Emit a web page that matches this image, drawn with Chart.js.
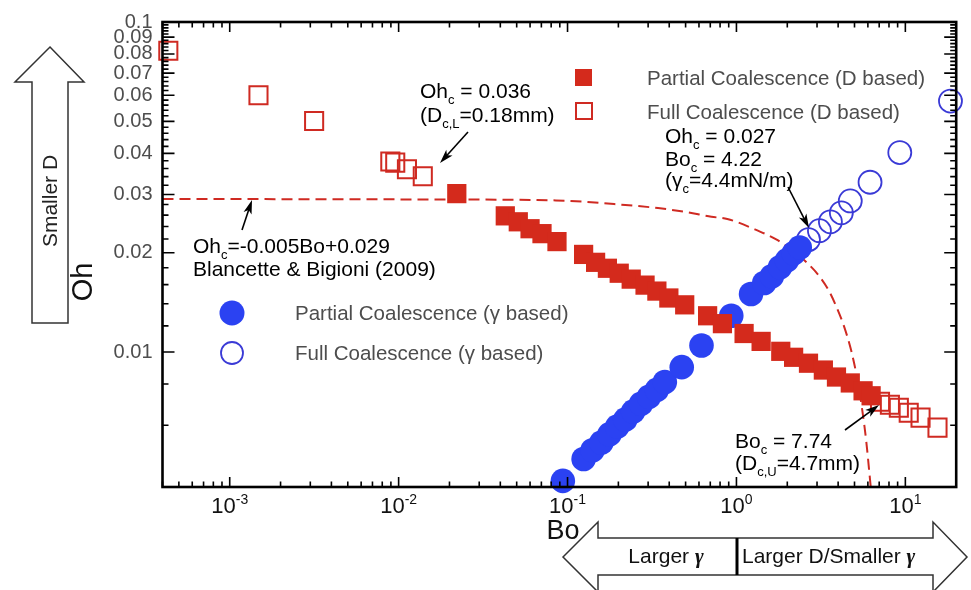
<!DOCTYPE html>
<html>
<head>
<meta charset="utf-8">
<script src="https://cdn.jsdelivr.net/npm/chart.js@4.4.1/dist/chart.umd.min.js"></script>
<style>
  html, body { margin: 0; padding: 0; background: #fff; }
  #wrap { width: 971px; height: 590px; position: relative; }
</style>
</head>
<body>
<div id="wrap"><canvas id="c" width="971" height="590"></canvas></div>
<script>
// Partial coalescence, droplet-size based (filled red squares)
const partialD_Bo = [0.0221, 0.0428, 0.0511, 0.0600, 0.0706, 0.0866, 0.1245, 0.1466, 0.1722, 0.2023,
                     0.2382, 0.2877, 0.338, 0.398, 0.494, 0.675, 0.826, 1.11, 1.40, 1.83,
                     2.18, 2.67, 3.27, 3.91, 4.72, 5.62, 6.27];
const partialD_Oh = [0.0302, 0.02586, 0.02481, 0.02364, 0.02284, 0.02161, 0.01976, 0.01870, 0.01794, 0.01733,
                     0.01663, 0.01595, 0.01530, 0.01458, 0.01390, 0.01288, 0.01219, 0.01138, 0.01077, 0.01005,
                     0.00964, 0.00925, 0.00882, 0.00840, 0.00806, 0.00763, 0.00737];

// Full coalescence, droplet-size based (open red squares)
const fullD_Bo = [0.000433, 0.00148, 0.00316, 0.00893, 0.00955, 0.0112, 0.0139,
                  7.08, 8.10, 9.15, 10.47, 12.3, 15.5];
const fullD_Oh = [0.0818, 0.0600, 0.0501, 0.0378, 0.0375, 0.0358, 0.0341,
                  0.00707, 0.00692, 0.00678, 0.00655, 0.00633, 0.00590];

// Partial coalescence, surface-tension based (filled blue circles)
const partialG_Bo = [0.0938, 0.1245, 0.1406, 0.1588, 0.1770, 0.1971, 0.2196, 0.2445, 0.2724, 0.3035,
                     0.338, 0.3768, 0.4744, 0.621, 0.932, 1.22, 1.46, 1.62, 1.81, 1.99, 2.18, 2.37];
const partialG_Oh = [0.00407, 0.00474, 0.00504, 0.00532, 0.00563, 0.00595, 0.00624, 0.00660, 0.00697, 0.00732,
                     0.00768, 0.00811, 0.00900, 0.01047, 0.01288, 0.01499, 0.01618, 0.01697, 0.01806, 0.01896,
                     0.01990, 0.02074];

// Full coalescence, surface-tension based (open blue circles)
const fullG_Bo = [2.67, 3.10, 3.60, 4.18, 4.72, 6.18, 9.27, 18.5];
const fullG_Oh = [0.02191, 0.02332, 0.02481, 0.02641, 0.02869, 0.03269, 0.04022, 0.05759];

// Critical Ohnesorge line, Blanchette & Bigioni (2009)
const critBo = [0.0004, 0.0129, 0.0853, 0.22, 0.343, 0.494, 0.711, 0.883, 1.27, 1.73, 2.18,
                2.60, 3.06, 3.51, 3.91, 4.35, 4.78, 5.19, 5.55, 5.86, 6.18, 6.30];
const critOh = [0.0291, 0.0290, 0.0288, 0.0279, 0.0273, 0.0266, 0.0257, 0.0253, 0.0236, 0.0219, 0.0202,
                0.0187, 0.0171, 0.0154, 0.0137, 0.0119, 0.0101, 0.0083, 0.0067, 0.0054, 0.0041, 0.0037];

// Axis ticks
const xTicks = [1e-3, 1e-2, 1e-1, 1, 10];
const xTickExp = ['-3', '-2', '-1', '0', '1'];
const xMinorMult = [2, 3, 4, 5, 6, 7, 8, 9];
const yTicks = [0.01, 0.02, 0.03, 0.04, 0.05, 0.06, 0.07, 0.08, 0.09, 0.1];
const yTickLabels = ['0.01', '0.02', '0.03', '0.04', '0.05', '0.06', '0.07', '0.08', '0.09', '0.1'];
const yMinorTicks = [0.006, 0.008];
for (let k = 1; k < 50; k++) { if (k % 5) yMinorTicks.push(+(0.01 + k * 0.002).toFixed(3)); }

const FONT = '"Liberation Sans", Arial, Helvetica, sans-serif';
const SERIF = '"Liberation Serif", "Times New Roman", serif';
const RED = '#d42a1c';
const RED_LINE = '#cf2a22';
const BLUE = '#2b42f2';
const BLUE_LINE = '#3a3ad6';
const GREY_TEXT = '#4d4d4d';

const pts = (xs, ys) => xs.map((v, i) => ({ x: v, y: ys[i] }));

// Text with sub/superscript pieces
function richText(ctx, x, y, parts, size, color, align) {
  ctx.save();
  ctx.fillStyle = color;
  ctx.textAlign = 'left';
  ctx.textBaseline = 'alphabetic';
  const items = parts.map(p => {
    const s = (p.sub || p.sup) ? Math.round(size * 0.62) : size;
    const font = `${p.style || ''} ${s}px ${p.family || FONT}`;
    ctx.font = font;
    return { t: p.t, font, w: ctx.measureText(p.t).width,
             dy: p.sub ? size * 0.3 : (p.sup ? -size * 0.42 : 0) };
  });
  const total = items.reduce((a, b) => a + b.w, 0);
  let cx = align === 'center' ? x - total / 2 : (align === 'right' ? x - total : x);
  items.forEach(it => { ctx.font = it.font; ctx.fillText(it.t, cx, y + it.dy); cx += it.w; });
  ctx.restore();
}

function arrow(ctx, x1, y1, x2, y2) {
  const head = 14, half = 4.2;
  const a = Math.atan2(y2 - y1, x2 - x1);
  const c = Math.cos(a), s = Math.sin(a);
  ctx.save();
  ctx.strokeStyle = '#000';
  ctx.fillStyle = '#000';
  ctx.lineWidth = 1.6;
  ctx.beginPath();
  ctx.moveTo(x1, y1);
  ctx.lineTo(x2 - c * head * 0.7, y2 - s * head * 0.7);
  ctx.stroke();
  ctx.beginPath();
  ctx.moveTo(x2, y2);
  ctx.lineTo(x2 - head * c + half * s, y2 - head * s - half * c);
  ctx.lineTo(x2 - head * c * 0.75, y2 - head * s * 0.75);
  ctx.lineTo(x2 - head * c - half * s, y2 - head * s + half * c);
  ctx.closePath();
  ctx.fill();
  ctx.restore();
}

// Frame with inward ticks on all four sides
const framePlugin = {
  id: 'frame',
  afterDatasetsDraw(chart) {
    const { ctx, chartArea: a, scales: { x, y } } = chart;
    ctx.save();
    ctx.strokeStyle = '#000';
    ctx.lineWidth = 1.6;
    ctx.beginPath();
    const xt = (v, len) => {
      const px = x.getPixelForValue(v);
      if (px < a.left - 0.5 || px > a.right + 0.5) return;
      ctx.moveTo(px, a.bottom); ctx.lineTo(px, a.bottom - len);
      ctx.moveTo(px, a.top); ctx.lineTo(px, a.top + len);
    };
    const yt = (v, len) => {
      const py = y.getPixelForValue(v);
      if (py < a.top - 0.5 || py > a.bottom + 0.5) return;
      ctx.moveTo(a.left, py); ctx.lineTo(a.left + len, py);
      ctx.moveTo(a.right, py); ctx.lineTo(a.right - len, py);
    };
    xTicks.forEach(v => xt(v, 10));
    [1e-4, 1e-3, 1e-2, 1e-1, 1, 10].forEach(d => xMinorMult.forEach(m => xt(d * m, 5.5)));
    yTicks.forEach(v => yt(v, 12));
    yMinorTicks.forEach(v => yt(v, 6));
    ctx.stroke();
    ctx.lineWidth = 2.6;
    ctx.strokeRect(a.left, a.top, a.right - a.left, a.bottom - a.top);
    ctx.restore();
  },
  afterDraw(chart) {
    const { ctx, scales: { x } } = chart;

    // x tick labels as powers of ten
    xTicks.forEach((v, i) => {
      richText(ctx, x.getPixelForValue(v), 513,
        [{ t: '10' }, { t: xTickExp[i], sup: true }], 22, '#111', 'center');
    });

    // axis titles
    ctx.save();
    ctx.fillStyle = '#111';
    ctx.font = `29px ${FONT}`;
    ctx.textAlign = 'center';
    ctx.textBaseline = 'middle';
    ctx.translate(84, 282);
    ctx.rotate(-Math.PI / 2);
    ctx.fillText('Oh', 0, 0);
    ctx.restore();
    ctx.save();
    ctx.fillStyle = '#111';
    ctx.font = `27px ${FONT}`;
    ctx.textAlign = 'center';
    ctx.textBaseline = 'middle';
    ctx.fillText('Bo', 563, 532);
    ctx.restore();

    // hollow arrow on the left: "Smaller D"
    ctx.save();
    ctx.strokeStyle = '#333';
    ctx.lineWidth = 1.5;
    ctx.beginPath();
    ctx.moveTo(50, 47); ctx.lineTo(84, 82); ctx.lineTo(68, 82); ctx.lineTo(68, 323);
    ctx.lineTo(32, 323); ctx.lineTo(32, 82); ctx.lineTo(15, 82); ctx.closePath();
    ctx.stroke();
    ctx.fillStyle = '#222';
    ctx.font = `21px ${FONT}`;
    ctx.textAlign = 'center';
    ctx.textBaseline = 'middle';
    ctx.translate(51, 201);
    ctx.rotate(-Math.PI / 2);
    ctx.fillText('Smaller D', 0, 0);
    ctx.restore();

    // double hollow arrow along Bo
    ctx.save();
    ctx.strokeStyle = '#333';
    ctx.lineWidth = 1.5;
    ctx.beginPath();
    ctx.moveTo(563, 557); ctx.lineTo(598, 522); ctx.lineTo(598, 538); ctx.lineTo(933, 538);
    ctx.lineTo(933, 522); ctx.lineTo(967, 557); ctx.lineTo(933, 592); ctx.lineTo(933, 575);
    ctx.lineTo(598, 575); ctx.lineTo(598, 592); ctx.closePath();
    ctx.stroke();
    ctx.lineWidth = 3;
    ctx.strokeStyle = '#000';
    ctx.beginPath(); ctx.moveTo(737, 538); ctx.lineTo(737, 575); ctx.stroke();
    ctx.restore();
    richText(ctx, 666, 563, [{ t: 'Larger ' }, { t: 'γ', style: 'italic bold', family: SERIF }], 21, '#111', 'center');
    richText(ctx, 742, 563, [{ t: 'Larger D/Smaller ' }, { t: 'γ', style: 'italic bold', family: SERIF }], 21, '#111', 'left');

    // legend: D based
    ctx.save();
    ctx.fillStyle = RED;
    ctx.fillRect(575, 69, 17, 17);
    ctx.strokeStyle = RED_LINE;
    ctx.lineWidth = 2;
    ctx.strokeRect(576, 103, 16, 16);
    // legend: gamma based
    ctx.fillStyle = BLUE;
    ctx.beginPath(); ctx.arc(232, 313, 12.5, 0, Math.PI * 2); ctx.fill();
    ctx.strokeStyle = BLUE_LINE;
    ctx.lineWidth = 1.8;
    ctx.beginPath(); ctx.arc(232, 353, 11, 0, Math.PI * 2); ctx.stroke();
    ctx.restore();
    richText(ctx, 647, 85, [{ t: 'Partial Coalescence (D based)' }], 20.5, GREY_TEXT);
    richText(ctx, 647, 119, [{ t: 'Full Coalescence (D based)' }], 20.5, GREY_TEXT);
    richText(ctx, 295, 320, [{ t: 'Partial Coalescence (γ based)' }], 20.5, GREY_TEXT);
    richText(ctx, 295, 360, [{ t: 'Full Coalescence (γ based)' }], 20.5, GREY_TEXT);

    // annotations
    const AS = 21;
    richText(ctx, 420, 98, [{ t: 'Oh' }, { t: 'c', sub: true }, { t: ' = 0.036' }], AS, '#000');
    richText(ctx, 420, 122, [{ t: '(D' }, { t: 'c,L', sub: true }, { t: '=0.18mm)' }], AS, '#000');
    arrow(ctx, 468, 132, 440, 163);

    richText(ctx, 665, 143, [{ t: 'Oh' }, { t: 'c', sub: true }, { t: ' = 0.027' }], AS, '#000');
    richText(ctx, 665, 166, [{ t: 'Bo' }, { t: 'c', sub: true }, { t: ' = 4.22' }], AS, '#000');
    richText(ctx, 665, 187, [{ t: '(γ' }, { t: 'c', sub: true }, { t: '=4.4mN/m)' }], AS, '#000');
    arrow(ctx, 788, 187, 809, 228);

    richText(ctx, 193, 253, [{ t: 'Oh' }, { t: 'c', sub: true }, { t: '=-0.005Bo+0.029' }], AS, '#000');
    richText(ctx, 193, 276, [{ t: 'Blancette & Bigioni (2009)' }], AS, '#000');
    arrow(ctx, 242, 230, 252, 200);

    richText(ctx, 735, 448, [{ t: 'Bo' }, { t: 'c', sub: true }, { t: ' = 7.74' }], AS, '#000');
    richText(ctx, 735, 470, [{ t: '(D' }, { t: 'c,U', sub: true }, { t: '=4.7mm)' }], AS, '#000');
    arrow(ctx, 845, 430, 879, 405);
  }
};

new Chart(document.getElementById('c'), {
  type: 'scatter',
  data: {
    datasets: [
      {
        label: 'Partial Coalescence (D based)',
        data: pts(partialD_Bo, partialD_Oh),
        pointStyle: 'rect', pointRadius: 13.6,
        backgroundColor: RED, borderColor: RED, borderWidth: 0,
        clip: false, order: 0
      },
      {
        label: 'Full Coalescence (D based)',
        data: pts(fullD_Bo, fullD_Oh),
        pointStyle: 'rect', pointRadius: 12.8,
        backgroundColor: 'rgba(0,0,0,0)', borderColor: RED_LINE, borderWidth: 2,
        clip: false, order: 1
      },
      {
        label: 'Partial Coalescence (γ based)',
        data: pts(partialG_Bo, partialG_Oh),
        pointStyle: 'circle', pointRadius: 12.3,
        backgroundColor: BLUE, borderColor: BLUE, borderWidth: 0,
        clip: false, order: 2
      },
      {
        label: 'Full Coalescence (γ based)',
        data: pts(fullG_Bo, fullG_Oh),
        pointStyle: 'circle', pointRadius: 11.5,
        backgroundColor: 'rgba(0,0,0,0)', borderColor: BLUE_LINE, borderWidth: 1.8,
        clip: false, order: 3
      },
      {
        type: 'line',
        label: 'Blanchette & Bigioni (2009)',
        data: pts(critBo, critOh),
        showLine: true, pointRadius: 0,
        borderColor: RED_LINE, borderWidth: 2, borderDash: [11, 6],
        cubicInterpolationMode: 'monotone', fill: false, order: 4
      }
    ]
  },
  options: {
    responsive: false,
    devicePixelRatio: 1,
    animation: false,
    events: [],
    layout: { padding: { top: 18, right: 8, left: 0, bottom: 0 } },
    plugins: { legend: { display: false }, tooltip: { enabled: false } },
    scales: {
      x: {
        type: 'logarithmic', min: 0.0004, max: 20,
        grid: { display: false, drawTicks: false },
        border: { display: false },
        ticks: { display: false },
        afterFit(s) { s.height = 103; }
      },
      y: {
        type: 'logarithmic', min: 0.0039, max: 0.1,
        grid: { display: false, drawTicks: false },
        border: { display: false },
        afterBuildTicks(s) { s.ticks = yTicks.map(v => ({ value: v })); },
        ticks: {
          autoSkip: false, padding: 10, color: GREY_TEXT,
          font: { family: FONT, size: 20 },
          callback: (v, i) => yTickLabels[i]
        },
        afterFit(s) { s.width = 162.5; }
      }
    }
  },
  plugins: [framePlugin]
});
</script>
</body>
</html>
